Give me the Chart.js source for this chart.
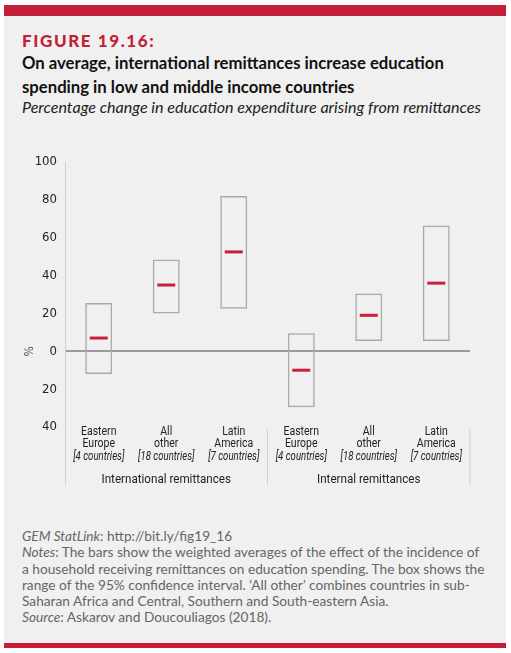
<!DOCTYPE html>
<html>
<head>
<meta charset="utf-8">
<script src="https://cdn.jsdelivr.net/npm/chart.js@4.4.1/dist/chart.umd.min.js"></script>
<style>
  html, body { margin: 0; padding: 0; background: #fff; }
  body { width: 511px; height: 653px; position: relative; overflow: hidden; font-family: Lato, "Open Sans", sans-serif; }
  .bar { position: absolute; left: 4px; width: 502px; background: #c41f38; }
  .panel { position: absolute; left: 4px; top: 16px; width: 502px; height: 627px; background: #eff0ef; }
  .txt { position: absolute; left: 22px; white-space: nowrap; }
  #fig { top: 30px; font-size: 17px; font-weight: 900; color: #c41f38; letter-spacing: 1.6px; }
  #title { top: 51px; font-size: 16.7px; font-weight: 700; color: #111; line-height: 24px; }
  #sub { top: 97px; font-size: 16.1px; font-style: italic; color: #222; }
  #notes { top: 528px; font-size: 13.7px; color: #666; line-height: 16.3px; }
  #notes i { font-style: italic; }
  #wrap { position: absolute; left: 4px; top: 140px; width: 502px; height: 360px; }
</style>
</head>
<body>
<div class="bar" style="top:5px;height:11px"></div>
<div class="panel"></div>
<div class="bar" style="top:643px;height:5px"></div>
<div class="txt" id="fig">FIGURE 19.16:</div>
<div class="txt" id="title">On average, international remittances increase education<br>spending in low and middle income countries</div>
<div class="txt" id="sub">Percentage change in education expenditure arising from remittances</div>
<div class="txt" id="notes"><i>GEM StatLink</i>: http://bit.ly/fig19_16<br><i>Notes</i>: The bars show the weighted averages of the effect of the incidence of<br>a household receiving remittances on education spending. The box shows the<br>range of the 95% confidence interval. ‘All other’ combines countries in sub-<br>Saharan Africa and Central, Southern and South-eastern Asia.<br><i>Source</i>: Askarov and Doucouliagos (2018).</div>
<div id="wrap"><canvas id="chart"></canvas></div>
<script>
// categories: international (first three) then internal remittances
const regionNames = [["Eastern", "Europe"], ["All", "other"], ["Latin", "America"],
                     ["Eastern", "Europe"], ["All", "other"], ["Latin", "America"]];
const countryCounts = ["[4 countries]", "[18 countries]", "[7 countries]",
                       "[4 countries]", "[18 countries]", "[7 countries]"];
const groupNames = ["International remittances", "Internal remittances"];

// 95% confidence interval bounds and weighted average effect (%)
const ciLow = [-12, 20, 22.5, -29.5, 5.5, 5.5];
const ciHigh = [25.5, 48.5, 82, 9.5, 30.5, 66.5];
const meanEffect = [7, 35, 52.5, -10, 19, 36];

const yTicks = [-40, -20, 0, 20, 40, 60, 80, 100];

const narrow = '"DejaVu Sans Condensed", sans-serif';

// condensed look: draw text squeezed horizontally
function squeezed(ctx, text, x, y, font, k) {
  ctx.save();
  ctx.translate(x, y);
  ctx.scale(k, 1);
  ctx.font = font;
  ctx.fillText(text, 0, 0);
  ctx.restore();
}

const labelsPlugin = {
  id: "labels",
  afterDraw(chart) {
    const { ctx, scales: { x, y }, chartArea } = chart;
    ctx.save();
    // axis extension and group separators
    ctx.strokeStyle = "#cfcfcf";
    ctx.lineWidth = 1;
    const bottom = chartArea.bottom + 58;
    ctx.beginPath();
    ctx.moveTo(chartArea.left + 0.5, chartArea.bottom);
    ctx.lineTo(chartArea.left + 0.5, bottom);
    const mid = (x.getPixelForValue(2) + x.getPixelForValue(3)) / 2;
    ctx.moveTo(mid, chartArea.bottom + 2);
    ctx.lineTo(mid, bottom);
    ctx.moveTo(chartArea.right, chartArea.bottom + 2);
    ctx.lineTo(chartArea.right, bottom);
    ctx.stroke();

    ctx.fillStyle = "#222";
    ctx.textAlign = "center";
    ctx.textBaseline = "middle";
    regionNames.forEach((lines, i) => {
      const px = x.getPixelForValue(i);
      lines.forEach((t, j) => squeezed(ctx, t, px, chartArea.bottom + 5 + j * 11.5, "12.5px Roboto", 0.84));
      squeezed(ctx, countryCounts[i], px, chartArea.bottom + 30, "italic 12px Roboto", 0.8);
    });
    groupNames.forEach((g, k) => {
      const px = x.getPixelForValue(k * 3 + 1);
      squeezed(ctx, g, px, chartArea.bottom + 53, "13.5px Roboto", 0.86);
    });

    // % axis title
    ctx.save();
    ctx.translate(26, y.getPixelForValue(0));
    ctx.rotate(-Math.PI / 2);
    ctx.font = "12px " + narrow;
    ctx.fillStyle = "#555";
    ctx.fillText("%", 0, 0);
    ctx.restore();
    ctx.restore();
  }
};

new Chart(document.getElementById("chart"), {
  data: {
    labels: regionNames.map((n) => n.join(" ")),
    datasets: [
      {
        type: "line",
        data: meanEffect,
        showLine: false,
        pointStyle: "line",
        pointRadius: 9,
        pointHoverRadius: 9,
        pointBorderWidth: 3,
        pointBorderColor: "#c8203a",
        order: 0,
      },
      {
        type: "bar",
        data: ciLow.map((lo, i) => [lo, ciHigh[i]]),
        backgroundColor: "rgba(0,0,0,0)",
        borderColor: "#a9a9a9",
        borderWidth: 1.5,
        borderSkipped: false,
        categoryPercentage: 1,
        barPercentage: 0.4,
        order: 1,
      },
    ],
  },
  options: {
    responsive: true,
    maintainAspectRatio: false,
    animation: false,
    events: [],
    layout: { padding: { left: 0, right: 36, top: 22, bottom: 73 } },
    plugins: { legend: { display: false }, tooltip: { enabled: false } },
    scales: {
      x: { type: "category", display: false },
      y: {
        min: -40,
        max: 100,
        afterFit: (scale) => { scale.width = 61; },
        afterBuildTicks: (scale) => { scale.ticks = yTicks.map((v) => ({ value: v })); },
        border: { display: true, color: "#cfcfcf", width: 1 },
        grid: {
          drawTicks: false,
          color: (c) => (c.tick && c.tick.value === 0 ? "#9a9a9a" : "rgba(0,0,0,0)"),
          lineWidth: (c) => (c.tick && c.tick.value === 0 ? 2 : 0),
        },
        ticks: {
          padding: 8,
          color: "#222",
          font: { family: narrow, size: 13 },
          callback: (v) => Math.abs(v),
        },
      },
    },
  },
  plugins: [labelsPlugin],
});
</script>
</body>
</html>
